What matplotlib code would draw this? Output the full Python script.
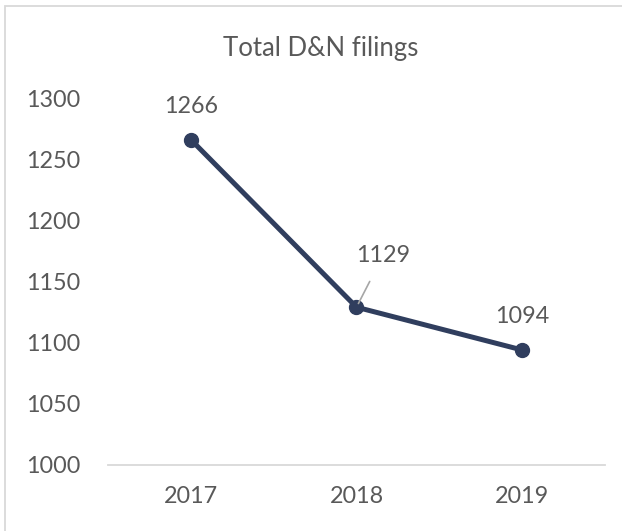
import matplotlib.pyplot as plt
from matplotlib.patches import Rectangle

years = ['2017', '2018', '2019']
filings = [1266, 1129, 1094]
y_ticks = [1000, 1050, 1100, 1150, 1200, 1250, 1300]

plt.rcParams['font.family'] = ['Lato', 'DejaVu Sans']
text_color = '#595959'
line_color = '#303E5E'

fig = plt.figure(figsize=(6.22, 5.31), dpi=100)
ax = fig.add_axes([0.1736, 0.1243, 0.7991, 0.6911])

x = list(range(len(years)))
ax.plot(x, filings, color=line_color, linewidth=3.6, marker='o',
        markersize=10, solid_capstyle='round', zorder=3)

# data labels, the middle one sits off to the side with a leader line
offsets = [(0, 24), (19, 37), (0, 24)]
for i, (xi, v) in enumerate(zip(x, filings)):
    dx, dy = offsets[i]
    if i == 1:
        ax.annotate(str(v), (xi, v), xytext=(dx, dy), textcoords='offset points',
                    ha='center', va='center', fontsize=16.8, color=text_color,
                    arrowprops=dict(arrowstyle='-', color='#A6A6A6', lw=1.2,
                                    shrinkA=10, shrinkB=3))
    else:
        ax.annotate(str(v), (xi, v), xytext=(dx, dy), textcoords='offset points',
                    ha='center', va='center', fontsize=16.8, color=text_color)

ax.set_xlim(-0.5, len(years) - 0.5)
ax.set_ylim(1000, 1300)
ax.set_xticks(x)
ax.set_xticklabels(years)
ax.set_yticks(y_ticks)
for s in ['top', 'right', 'left']:
    ax.spines[s].set_visible(False)
ax.spines['bottom'].set_color('#D9D9D9')
ax.spines['bottom'].set_linewidth(1.3)
ax.tick_params(axis='both', length=0, labelsize=16.8, colors=text_color)
ax.tick_params(axis='y', pad=20)
ax.tick_params(axis='x', pad=15)

fig.text(0.515, 1 - 48 / 531, 'Total D&N filings', ha='center', va='center',
         fontsize=18.5, color=text_color)

# light chart border like the Excel chart area
fig.patches.append(Rectangle((0.008, -0.02), 1.05, 1.008, transform=fig.transFigure,
                             fill=False, edgecolor='#D9D9D9', linewidth=1.3))

plt.savefig('out.png', dpi=100)
